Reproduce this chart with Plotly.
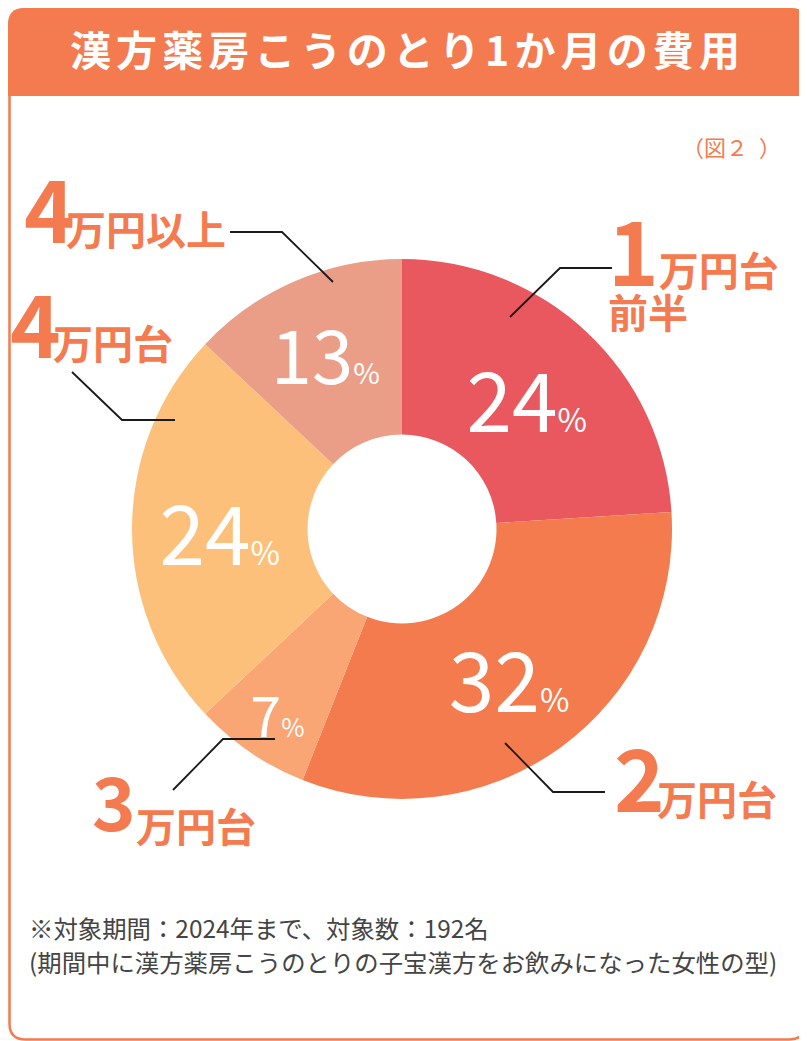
import plotly.graph_objects as go

# ブラウザのbody余白(8px)の分だけ図をずらして描く
OFF = 8
W, H = 807 - OFF, 1041 - OFF

# データ
labels = ['1万円台前半', '2万円台', '3万円台', '4万円台', '4万円以上']
values = [24, 32, 7, 24, 13]
colors = ['#E9585E', '#F47B4E', '#F9A574', '#FDC07A', '#EA9E87']
pct_sizes = [82, 82, 70, 82, 82]

callout_num = ['1', '2', '3', '4', '4']
callout_unit = ['万円台', '万円台', '万円台', '万円台', '万円以上']
callout_sub = ['前半', '', '', '', '']

title = '漢方薬房こうのとり1か月の費用'
fig_no = '（図２\u2002）'
notes = ['※対象期間：2024年まで、対象数：192名',
         '(期間中に漢方薬房こうのとりの子宝漢方をお飲みになった女性の型)']

ORANGE = '#F47B4F'
FONT = 'Noto Sans CJK JP'


def px(x):
    return (x - OFF) / W


def py(y):
    return 1 - (y - OFF) / H


# 円グラフ（ドーナツ）
cx, cy, r = 402, 529, 270
fig = go.Figure(go.Pie(
    labels=labels,
    values=values,
    sort=False,
    direction='clockwise',
    rotation=0,
    hole=0.35,
    marker=dict(colors=colors, line=dict(width=0)),
    texttemplate='%{value}<span style="font-size:32px">%</span>',
    textposition='inside',
    insidetextorientation='horizontal',
    textfont=dict(family=FONT, size=pct_sizes, color='white'),
    showlegend=False,
    hoverinfo='label+percent',
    domain=dict(x=[px(cx - r), px(cx + r)], y=[py(cy + r), py(cy - r)]),
))


# 外枠とヘッダー
def rounded_top(x0, y0, x1, y1, rad):
    return (f'M {px(x0)},{py(y1)} L {px(x0)},{py(y0 + rad)} '
            f'Q {px(x0)},{py(y0)} {px(x0 + rad)},{py(y0)} '
            f'L {px(x1 - rad)},{py(y0)} Q {px(x1)},{py(y0)} {px(x1)},{py(y0 + rad)} '
            f'L {px(x1)},{py(y1)} Z')


def rounded_rect(x0, y0, x1, y1, rad):
    return (f'M {px(x0 + rad)},{py(y0)} L {px(x1 - rad)},{py(y0)} '
            f'Q {px(x1)},{py(y0)} {px(x1)},{py(y0 + rad)} '
            f'L {px(x1)},{py(y1 - rad)} Q {px(x1)},{py(y1)} {px(x1 - rad)},{py(y1)} '
            f'L {px(x0 + rad)},{py(y1)} Q {px(x0)},{py(y1)} {px(x0)},{py(y1 - rad)} '
            f'L {px(x0)},{py(y0 + rad)} Q {px(x0)},{py(y0)} {px(x0 + rad)},{py(y0)} Z')


shapes = [
    dict(type='path', xref='paper', yref='paper', path=rounded_top(OFF, OFF, 807, 96, 16),
         fillcolor=ORANGE, line=dict(width=0), layer='below'),
    dict(type='path', xref='paper', yref='paper',
         path=rounded_rect(OFF + 1.5, OFF + 1.5, 805.5, 1039.5, 16),
         line=dict(color=ORANGE, width=2.5), layer='below'),
]

# 引き出し線
leaders = [
    [(510, 317), (560, 268), (612, 268)],
    [(505, 743), (553, 792), (605, 792)],
    [(275, 739), (223, 739), (173, 790)],
    [(175, 420), (122, 420), (72, 372)],
    [(333, 282), (282, 232), (230, 232)],
]
for pts in leaders:
    path = 'M ' + ' L '.join(f'{px(x)},{py(y)}' for x, y in pts)
    shapes.append(dict(type='path', xref='paper', yref='paper', path=path,
                       line=dict(color='#1a1a1a', width=1.8)))

annotations = [
    dict(text='\u200a\u200a'.join(title), x=px(405), y=py(48), xref='paper', yref='paper',
         xanchor='center', yanchor='middle', showarrow=False,
         font=dict(family=FONT, size=41, color='white', weight='bold')),
    dict(text=fig_no, x=px(783), y=py(146), xref='paper', yref='paper',
         xanchor='right', yanchor='middle', showarrow=False,
         font=dict(family=FONT, size=22, color=ORANGE)),
]
for i, line in enumerate(notes):
    annotations.append(dict(text=line, x=px(27), y=py(927 + 34 * i), xref='paper', yref='paper',
                            xanchor='left', yanchor='middle', showarrow=False,
                            font=dict(family=FONT, size=24.4, color='#444444')))

# ラベル位置（数字の左端, 数字の中心y, 数字サイズ, 単位の左端, 単位の中心y）
callout_pos = [
    (606, 249, 86, 657, 271),
    (612, 780, 86, 655, 800),
    (90, 804, 74, 134, 827),
    (8, 326, 86, 51, 344),
    (22, 211, 86, 64, 230),
]
for i, (nx, ny, ns, ux, uy) in enumerate(callout_pos):
    if callout_sub[i]:
        # 2行のラベルは1つの注釈にまとめる
        txt = (f'<span style="font-size:{ns}px">{callout_num[i]}</span>'
               f'<span style="font-size:40px">{callout_unit[i]}</span><br>'
               f'<span style="font-size:40px">{callout_sub[i]}</span>')
        annotations.append(dict(text=txt, x=px(nx), y=py(ny + 14), xref='paper', yref='paper',
                                xanchor='left', yanchor='middle', align='left', showarrow=False,
                                font=dict(family=FONT, size=32, color=ORANGE, weight='bold')))
        continue
    annotations.append(dict(text=callout_num[i], x=px(nx), y=py(ny - 6), xref='paper', yref='paper',
                            xanchor='left', yanchor='middle', showarrow=False,
                            font=dict(family=FONT, size=ns, color=ORANGE, weight='bold')))
    annotations.append(dict(text=callout_unit[i], x=px(ux), y=py(uy - 2), xref='paper', yref='paper',
                            xanchor='left', yanchor='middle', showarrow=False,
                            font=dict(family=FONT, size=40, color=ORANGE, weight='bold')))

fig.update_layout(
    width=W, height=H,
    margin=dict(l=0, r=0, t=0, b=0),
    paper_bgcolor='white',
    plot_bgcolor='white',
    shapes=shapes,
    annotations=annotations,
)

fig.write_html("out.html")
